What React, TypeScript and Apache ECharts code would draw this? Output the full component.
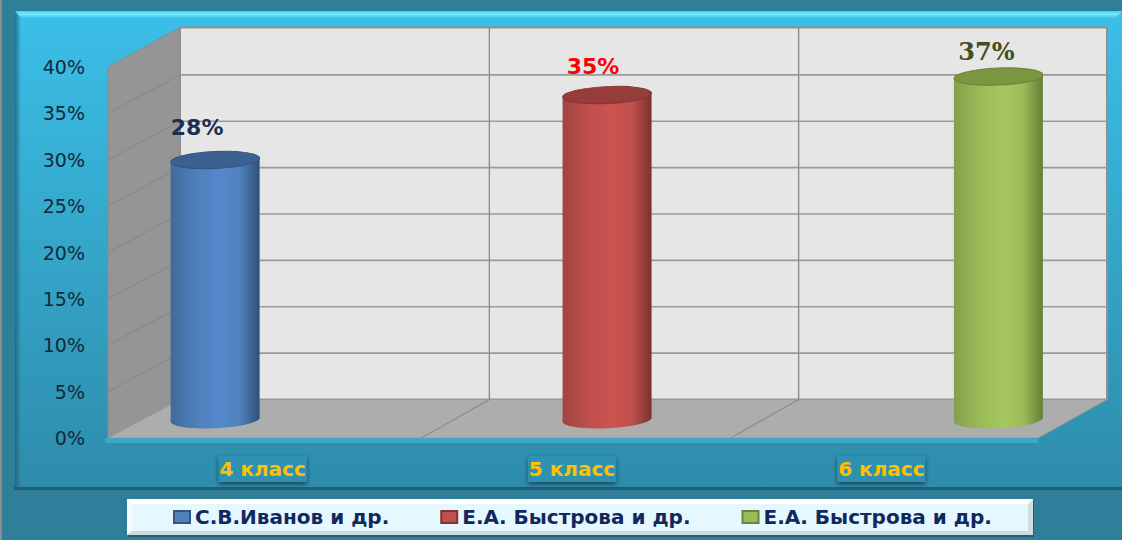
import React, { useEffect, useRef } from "react";
import * as echarts from "echarts";

const categories = ["4 класс", "5 класс", "6 класс"];
const valueTicks = [0, 5, 10, 15, 20, 25, 30, 35, 40];
const seriesNames = ["С.В.Иванов и др.", "Е.А. Быстрова и др.", "Е.А. Быстрова и др. "];
const ivanovValues = [[0, 28]];
const bystrova5Values = [[1, 35]];
const bystrova6Values = [[2, 37]];

const looks = [
  { main: "#4F81BD", edge: "#42699A", dark: "#2F5078", mid: "#5588CC", top: "#3C6091", rim: "#345680", text: "#1B2F52", font: "DejaVu Sans", size: 22, dx: -18, dy: -33, offset: -0.27 },
  { main: "#C0504D", edge: "#A04442", dark: "#7A3130", mid: "#CD5350", top: "#963C3A", rim: "#843533", text: "#FF0000", font: "DejaVu Sans", size: 22, dx: -14, dy: -29, offset: -0.003 },
  { main: "#9BBB59", edge: "#84A04A", dark: "#667E36", mid: "#A5C75F", top: "#7A9640", rim: "#6C853A", text: "#3E4F22", font: "DejaVu Serif", size: 24, dx: -12, dy: -25, offset: 0.262 },
];

const DEPTH_X = 72;
const DEPTH_Y = 38.5;

function renderRoom(params: any, api: any) {
  const cs = params.coordSys;
  const l = cs.x, r = cs.x + cs.width, t = cs.y, b = cs.y + cs.height;
  const children: any[] = [
    { type: "polygon", shape: { points: [[l, t], [l + DEPTH_X, t - DEPTH_Y - 1], [l + DEPTH_X, b - DEPTH_Y], [l, b]] }, style: { fill: "#959595", stroke: "#8A8A8A", lineWidth: 1 } },
    { type: "rect", shape: { x: l + DEPTH_X, y: t - DEPTH_Y - 1, width: cs.width - 1, height: cs.height + 1 }, style: { fill: "#E6E6E6", stroke: "#8F8F8F", lineWidth: 2 } },
    { type: "polygon", shape: { points: [[l, b], [l + DEPTH_X, b - DEPTH_Y], [r + DEPTH_X - 1, b - DEPTH_Y], [r + 2, b]] }, style: { fill: "#ADADAD", stroke: "#9A9A9A", lineWidth: 1 } },
    { type: "rect", shape: { x: l - 3, y: b, width: cs.width + 5, height: 5 }, style: { fill: "#3FA6C6" } },
  ];
  valueTicks.forEach((v) => {
    const y = api.coord([0, v])[1];
    if (v > 0 && v < 40) {
      children.push({
        type: "line",
        shape: { x1: l, y1: y, x2: l + DEPTH_X, y2: y - DEPTH_Y },
        style: { stroke: "#858585", lineWidth: 1 },
      });
      children.push({
        type: "line",
        shape: { x1: l + DEPTH_X, y1: y - DEPTH_Y, x2: r + DEPTH_X - 1, y2: y - DEPTH_Y },
        style: { stroke: "#9A9A9A", lineWidth: 1.6 },
      });
    }
  });
  const band = cs.width / categories.length;
  [1, 2].forEach((i) => {
    const x = l + band * i;
    children.push({
      type: "polyline",
      shape: { points: [[x + 4, b], [x + DEPTH_X, b - DEPTH_Y], [x + DEPTH_X, t - DEPTH_Y - 1]] },
      style: { fill: "none", stroke: "#8F8F8F", lineWidth: 1.4 },
    });
  });
  return { type: "group", children };
}

function renderCylinder(params: any, api: any) {
  const look = looks[params.seriesIndex - 1];
  const band = api.size([1, 0])[0];
  const rx = 44.5;
  const ry = 8.5;
  const tilt = 0.045;
  const lift = rx * Math.sin(tilt);
  const idx = api.value(0);
  const val = api.value(1);
  const [fx, topY] = api.coord([idx, val]);
  const baseY = api.coord([idx, 0])[1];
  const cx = fx + look.offset * band + DEPTH_X / 2;
  const cyTop = topY - DEPTH_Y / 2 + 1;
  const cyBase = baseY - DEPTH_Y / 2 + 1;
  const fill = new echarts.graphic.LinearGradient(0, 0, 1, 0, [
    { offset: 0, color: look.edge },
    { offset: 0.3, color: look.main },
    { offset: 0.55, color: look.mid },
    { offset: 0.78, color: look.main },
    { offset: 1, color: look.dark },
  ]);
  return {
    type: "group",
    children: [
      { type: "ellipse", originX: cx, originY: cyBase, rotation: tilt, shape: { cx, cy: cyBase, rx, ry }, style: { fill } },
      {
        type: "polygon",
        shape: {
          points: [
            [cx - rx, cyTop + lift],
            [cx + rx, cyTop - lift],
            [cx + rx, cyBase - lift],
            [cx - rx, cyBase + lift],
          ],
        },
        style: { fill },
      },
      { type: "ellipse", originX: cx, originY: cyTop, rotation: tilt, shape: { cx, cy: cyTop, rx, ry }, style: { fill: look.top, stroke: look.rim, lineWidth: 1 } },
      {
        type: "text",
        style: {
          x: cx + look.dx,
          y: cyTop + look.dy,
          text: val + "%",
          fill: look.text,
          font: `bold ${look.size}px "${look.font}"`,
          align: "center",
          verticalAlign: "middle",
        },
      },
    ],
  };
}

function cylinderSeries(i: number, data: number[][]) {
  return {
    type: "custom",
    name: seriesNames[i],
    data,
    z: 3,
    silent: true,
    itemStyle: { color: looks[i].main, borderColor: looks[i].rim, borderWidth: 1.5 },
    encode: { x: 0, y: 1 },
    renderItem: renderCylinder,
  };
}

export default function App() {
  const ref = useRef<HTMLDivElement>(null);
  useEffect(() => {
    const chart = echarts.init(ref.current!, undefined, { renderer: "svg" });
    const panelFill = new echarts.graphic.LinearGradient(0, 0, 0, 1, [
      { offset: 0, color: "#3BBFE8" },
      { offset: 1, color: "#2E8CAB" },
    ]);
    const topFill = new echarts.graphic.LinearGradient(0, 0, 0, 1, [
      { offset: 0, color: "#48D0EC" },
      { offset: 0.45, color: "#74EAFB" },
      { offset: 1, color: "#3BC2EA" },
    ]);
    const leftFill = new echarts.graphic.LinearGradient(0, 0, 1, 0, [
      { offset: 0, color: "rgba(30,90,115,0.75)" },
      { offset: 1, color: "rgba(30,90,115,0)" },
    ]);
    chart.setOption({
      animation: false,
      backgroundColor: "#2F7E9A",
      graphic: [
        { type: "rect", z: -10, shape: { x: 0, y: 0, width: 2, height: 540 }, style: { fill: "#8C8C8C" } },
        { type: "rect", z: -10, shape: { x: 14, y: 486, width: 1108, height: 4 }, style: { fill: "#235F74" } },
        { type: "rect", z: -9, shape: { x: 15, y: 11, width: 1107, height: 476 }, style: { fill: panelFill } },
        { type: "rect", z: -8, shape: { x: 15, y: 11, width: 6, height: 476 }, style: { fill: leftFill } },
        { type: "polygon", z: -7, shape: { points: [[15, 11], [1122, 11], [1116, 18], [21, 18]] }, style: { fill: topFill } },
        { type: "rect", z: -6, shape: { x: 128, y: 501, width: 906, height: 36 }, style: { fill: "#245E74" } },
        { type: "rect", z: -5, shape: { x: 127, y: 499, width: 906, height: 36 }, style: { fill: "#E6F8FF" } },
        { type: "polygon", z: -4, shape: { points: [[127, 499], [1033, 499], [1028, 504], [132, 504]] }, style: { fill: "#FFFFFF" } },
        { type: "polygon", z: -4, shape: { points: [[127, 499], [132, 504], [132, 531], [127, 535]] }, style: { fill: "#F4FCFF" } },
        { type: "polygon", z: -4, shape: { points: [[127, 535], [132, 531], [1028, 531], [1033, 535]] }, style: { fill: "#CDD9DE" } },
        { type: "polygon", z: -4, shape: { points: [[1033, 499], [1028, 504], [1028, 531], [1033, 535]] }, style: { fill: "#D3DEE2" } },
      ],
      grid: { left: 108, top: 67, width: 928, height: 371, containLabel: false },
      xAxis: {
        type: "category",
        data: categories,
        axisLine: { show: false },
        axisTick: { show: false },
        axisLabel: {
          margin: 18,
          color: "#FFC000",
          fontFamily: "DejaVu Sans",
          fontWeight: "bold",
          fontSize: 20,
          backgroundColor: "#2F91B2",
          padding: [3, 1, 3, 1],
          shadowColor: "rgba(10,40,55,0.75)",
          shadowBlur: 4,
          shadowOffsetY: 2,
        },
      },
      yAxis: {
        type: "value",
        min: 0,
        max: 40,
        interval: 5,
        splitLine: { show: false },
        axisLine: { show: false },
        axisTick: { show: false },
        axisLabel: {
          margin: 23,
          color: "#0F2A3A",
          fontFamily: "DejaVu Sans",
          fontSize: 19,
          padding: [3, 0, 0, 0],
          formatter: "{value}%",
        },
      },
      legend: {
        data: seriesNames,
        left: 173,
        top: 507,
        padding: 0,
        itemWidth: 16,
        itemHeight: 12,
        itemGap: 51,
        icon: "rect",
        formatter: (n: string) => n.trim(),
        textStyle: { color: "#10285E", fontFamily: "DejaVu Sans", fontWeight: "bold", fontSize: 20 },
        selectedMode: false,
      },
      series: [
        { type: "custom", name: "room", silent: true, z: 1, data: [[0, 0]], encode: { x: 0, y: 1 }, renderItem: renderRoom },
        cylinderSeries(0, ivanovValues),
        cylinderSeries(1, bystrova5Values),
        cylinderSeries(2, bystrova6Values),
      ],
    });
    return () => chart.dispose();
  }, []);
  return <div ref={ref} style={{ position: "absolute", left: 0, top: 0, width: 1122, height: 540 }} />;
}
